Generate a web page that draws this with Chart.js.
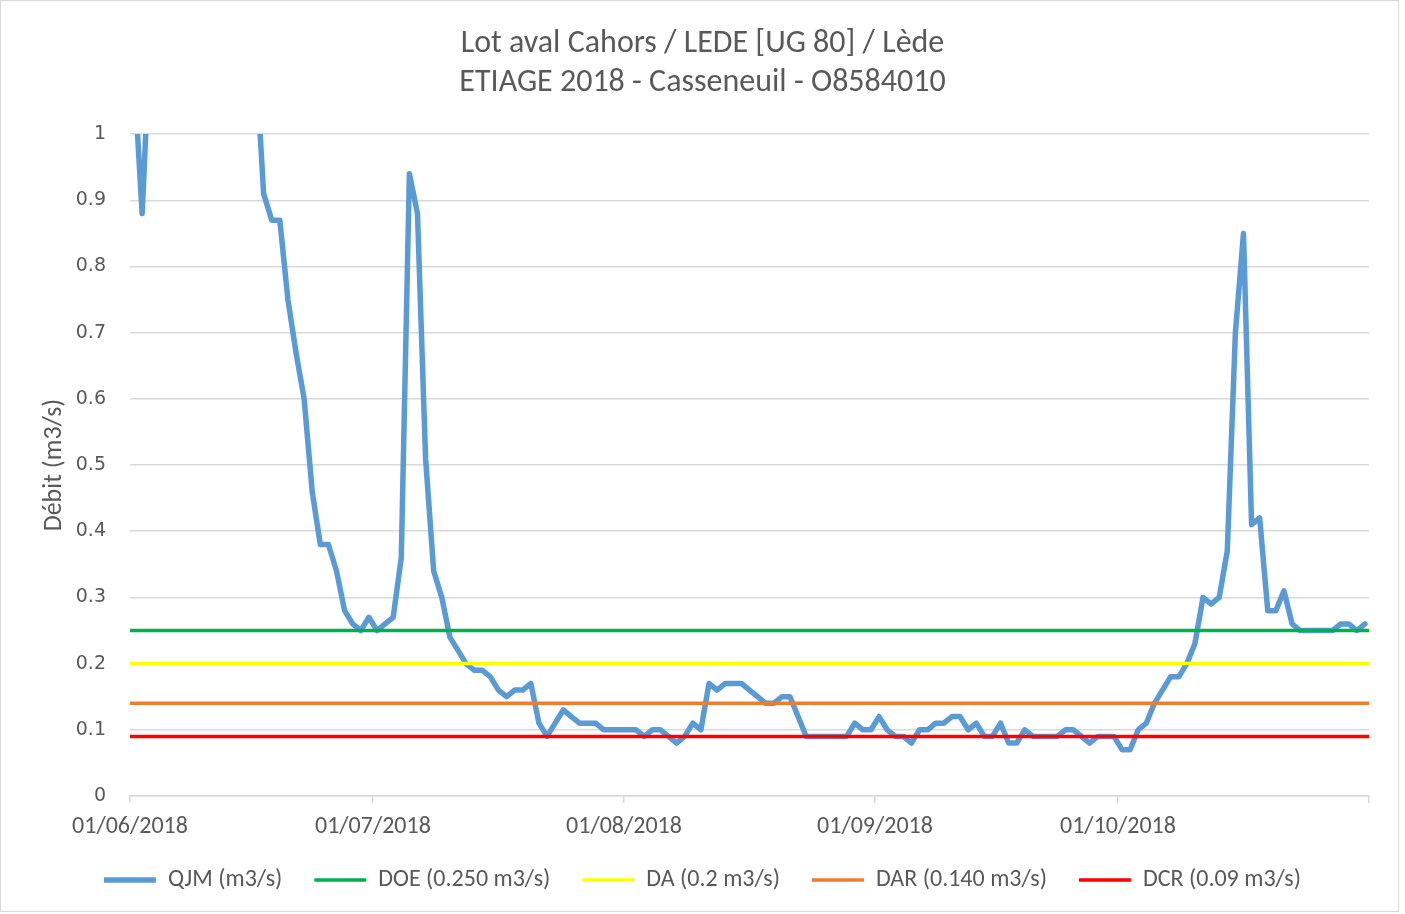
<!DOCTYPE html>
<html lang="fr">
<head>
<meta charset="utf-8">
<title>Lot aval Cahors / LEDE - Etiage 2018</title>
<script src="https://cdn.jsdelivr.net/npm/chart.js@4.4.1/dist/chart.umd.min.js"></script>
<style>
  html, body { margin: 0; padding: 0; background: #fff; }
  #wrap { position: relative; width: 1405px; height: 914px; }
  #frame { position: absolute; left: 0; top: 0; width: 1397px; height: 910px; border: 1px solid #d9d9d9; }
  #chart { position: absolute; left: 0; top: 0; }
</style>
</head>
<body>
<div id="wrap">
  <div id="frame"></div>
  <canvas id="chart" width="1405" height="914"></canvas>
</div>
<script>
// --- DATA ---
const titleLines = ["Lot aval Cahors / LEDE [UG 80] / Lède", "ETIAGE 2018 - Casseneuil - O8584010"];
const yTitle = "Débit (m3/s)";

// first day of the series, one value per day from 01/06 to 31/10
const startDate = "2018-06-01";
const endDate = "2018-11-01";
const qjm = [
  1.09, 0.88, 1.15, 1.35, 1.6, 1.5, 1.4, 1.3, 1.25, 1.4,
  1.35, 1.3, 1.22, 1.18, 1.15, 1.12, 0.91, 0.87, 0.87, 0.75,
  0.67, 0.60, 0.46, 0.38, 0.38, 0.34, 0.28, 0.26, 0.25, 0.27,
  0.25, 0.26, 0.27, 0.36, 0.94, 0.88, 0.51, 0.34, 0.30, 0.24,
  0.22, 0.20, 0.19, 0.19, 0.18, 0.16, 0.15, 0.16, 0.16, 0.17,
  0.11, 0.09, 0.11, 0.13, 0.12, 0.11, 0.11, 0.11, 0.10, 0.10,
  0.10, 0.10, 0.10, 0.09, 0.10, 0.10, 0.09, 0.08, 0.09, 0.11,
  0.10, 0.17, 0.16, 0.17, 0.17, 0.17, 0.16, 0.15, 0.14, 0.14,
  0.15, 0.15, 0.12, 0.09, 0.09, 0.09, 0.09, 0.09, 0.09, 0.11,
  0.10, 0.10, 0.12, 0.10, 0.09, 0.09, 0.08, 0.10, 0.10, 0.11,
  0.11, 0.12, 0.12, 0.10, 0.11, 0.09, 0.09, 0.11, 0.08, 0.08,
  0.10, 0.09, 0.09, 0.09, 0.09, 0.10, 0.10, 0.09, 0.08, 0.09,
  0.09, 0.09, 0.07, 0.07, 0.10, 0.11, 0.14, 0.16, 0.18, 0.18,
  0.20, 0.23, 0.30, 0.29, 0.30, 0.37, 0.70, 0.85, 0.41, 0.42,
  0.28, 0.28, 0.31, 0.26, 0.25, 0.25, 0.25, 0.25, 0.25, 0.26,
  0.26, 0.25, 0.26
];

// reference flows
const thresholdNames = ["DOE (0.250 m3/s)", "DA (0.2 m3/s)", "DAR (0.140 m3/s)", "DCR (0.09 m3/s)"];
const thresholdValues = [0.25, 0.2, 0.14, 0.09];
const thresholdColors = ["#00b050", "#ffff00", "#ed7d31", "#ff0000"];

const tickDates = ["01/06/2018", "01/07/2018", "01/08/2018", "01/09/2018", "01/10/2018", "01/11/2018"];
const yTicks = [0, 0.1, 0.2, 0.3, 0.4, 0.5, 0.6, 0.7, 0.8, 0.9, 1];

// --- HELPERS ---
const DAY = 86400000;
function parseFr(s) {
  const [d, m, y] = s.split("/").map(Number);
  return Date.UTC(y, m - 1, d);
}
function parseIso(s) {
  const [y, m, d] = s.split("-").map(Number);
  return Date.UTC(y, m - 1, d);
}
const t0 = parseIso(startDate);
const totalDays = (parseIso(endDate) - t0) / DAY;
const tickDays = tickDates.map(s => (parseFr(s) - t0) / DAY);
const tickText = {};
tickDates.forEach((s, i) => { tickText[tickDays[i]] = tickDays[i] < totalDays ? s : ""; });

// each daily value sits in the middle of its day
const qjmPoints = qjm.map((v, i) => ({ x: i + 0.5, y: v }));

const textColor = "#595959";
const gridColor = "#d9d9d9";
const mainFont = "Carlito, 'Open Sans', sans-serif";

// --- CHART ---
const datasets = [{
  label: "QJM (m3/s)",
  data: qjmPoints,
  borderColor: "#5b9bd5",
  backgroundColor: "#5b9bd5",
  borderWidth: 5.5,
  borderJoinStyle: "round",
  borderCapStyle: "round",
  pointRadius: 0,
  tension: 0,
  order: 5,
  clip: { left: 5, top: 0, right: 5, bottom: 5 }
}];

thresholdValues.forEach((v, i) => {
  datasets.push({
    label: thresholdNames[i],
    data: [{ x: 0, y: v }, { x: totalDays, y: v }],
    borderColor: thresholdColors[i],
    backgroundColor: thresholdColors[i],
    borderWidth: 3.5,
    borderCapStyle: "butt",
    pointRadius: 0,
    order: 0
  });
});

new Chart(document.getElementById("chart"), {
  type: "line",
  data: { datasets },
  options: {
    responsive: false,
    animation: false,
    devicePixelRatio: 1,
    layout: { padding: { left: 36, right: 36, top: 0, bottom: 12 } },
    scales: {
      x: {
        type: "linear",
        min: 0,
        max: totalDays,
        afterBuildTicks: scale => { scale.ticks = tickDays.map(v => ({ value: v })); },
        afterFit: scale => { scale.height = 40; },
        ticks: {
          autoSkip: false,
          maxRotation: 0,
          padding: 10,
          color: textColor,
          font: { family: mainFont, size: 24 },
          callback: v => tickText[v]
        },
        grid: {
          drawOnChartArea: false,
          drawTicks: true,
          tickLength: 7,
          color: gridColor,
          lineWidth: 1.5
        },
        border: { color: gridColor, width: 1.5 }
      },
      y: {
        min: 0,
        max: 1,
        afterBuildTicks: scale => { scale.ticks = yTicks.map(v => ({ value: v })); },
        afterFit: scale => { scale.width = 94; },
        ticks: {
          padding: 24,
          color: textColor,
          font: { family: "'DejaVu Sans', sans-serif", size: 19 },
          callback: v => String(Math.round(v * 10) / 10)
        },
        grid: { color: gridColor, lineWidth: 1.5, drawTicks: false },
        border: { display: false },
        title: {
          display: true,
          text: yTitle,
          color: textColor,
          font: { family: mainFont, size: 26 },
          padding: { top: 2.5, bottom: 0 }
        }
      }
    },
    plugins: {
      title: {
        display: true,
        text: titleLines,
        color: textColor,
        font: { family: mainFont, size: 32, weight: "normal", lineHeight: 1.22 },
        padding: { top: 24.5, bottom: 31.5 }
      },
      legend: {
        position: "bottom",
        labels: {
          usePointStyle: true,
          pointStyle: "line",
          pointStyleWidth: 52,
          padding: 32,
          color: textColor,
          font: { family: mainFont, size: 24 },
          sort: (a, b) => a.datasetIndex - b.datasetIndex
        }
      },
      tooltip: { enabled: false }
    }
  }
});
</script>
</body>
</html>
